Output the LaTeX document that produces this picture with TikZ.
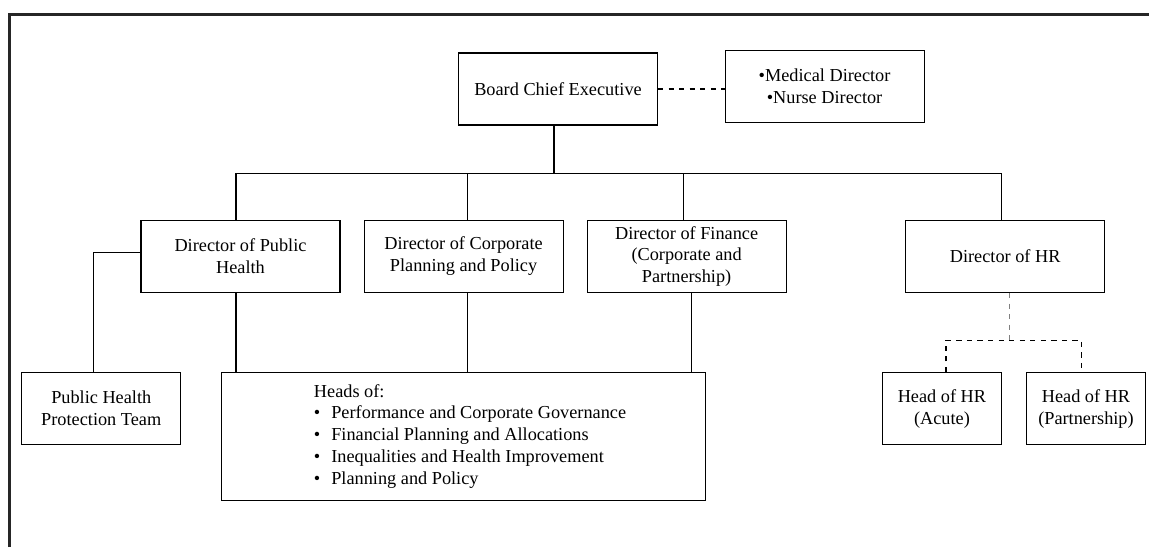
\documentclass[tikz,border=0pt]{standalone}
\usepackage{fontspec}
\setmainfont{Liberation Serif}
\usetikzlibrary{positioning}

\begin{document}
\begin{tikzpicture}[semithick, font=\fontsize{10.4}{12.5}\selectfont]

    \tikzstyle{post} = [rectangle, minimum width=3.98cm, minimum height=1.44cm, align=center, inner ysep=1pt, draw=black]
    \tikzstyle{head} = [post, minimum width=2.39cm]

    \useasboundingbox (0,0) rectangle (22.98,-10.94);
    \draw[line width=1.7pt, black!85] (0.19,-10.94) -- (0.19,-0.29) -- (22.98,-0.29);

    \node (ceo)     [post] at (11.16,-1.78)                     {Board Chief Executive};
    \node (med)     [post, right=1.33cm of ceo, yshift=0.05cm]  {\textbullet Medical Director\\\textbullet Nurse Director};

    \node (dph)     [post] at (4.81,-5.13)                      {Director of Public\\Health};
    \node (dcp)     [post, right=0.46cm of dph]                 {Director of Corporate\\Planning and Policy};
    \node (dfin)    [post, right=0.46cm of dcp]                 {Director of Finance\\(Corporate and\\Partnership)};
    \node (dhr)     [post, right=2.37cm of dfin]                {Director of HR};

    \node (heads)   [post, below=1.58cm of dcp, minimum width=9.67cm, minimum height=2.56cm]
        {\begin{tabular}{@{\hspace{0.26cm}}c@{\hspace{0.22cm}}l@{}}
            \multicolumn{2}{@{\hspace{0.26cm}}l@{}}{Heads of:}\\
            \textbullet & Performance and Corporate Governance\\
            \textbullet & Financial Planning and Allocations\\
            \textbullet & Inequalities and Health Improvement\\
            \textbullet & Planning and Policy
         \end{tabular}};
    \node (phpt)    [post, minimum width=3.18cm, left=0.8cm of heads.north west, anchor=north east] {Public Health\\Protection Team};

    \node (hracute) [head, below=1.58cm of dhr.south west, anchor=north west, xshift=-0.47cm] {Head of HR\\(Acute)};
    \node (hrpart)  [head, right=0.47cm of hracute]             {Head of HR\\(Partnership)};

    % board level
    \draw[dashed, thick] (ceo.east) -- (ceo.east -| med.west);
    \draw ([xshift=-0.08cm]ceo.south) -- ++(0,-0.954) coordinate (bus);

    % directors
    \draw ([xshift=-0.09cm]dph.north)  |- (bus);
    \draw ([xshift=0.07cm]dcp.north)   |- (bus);
    \draw ([xshift=-0.07cm]dfin.north) |- (bus);
    \draw ([xshift=-0.07cm]dhr.north)  |- (bus);

    % heads
    \draw ([xshift=-0.09cm]dph.south)  -- ([xshift=-0.09cm]dph.south |- heads.north);
    \draw ([xshift=0.07cm]dcp.south)   -- ([xshift=0.07cm]dcp.south |- heads.north);
    \draw ([xshift=0.09cm]dfin.south)  -- ([xshift=0.09cm]dfin.south |- heads.north);
    \draw ([yshift=0.08cm]dph.west)    -| ([xshift=-0.16cm]phpt.north);

    % HR
    \draw[dashed, gray] ([xshift=0.09cm]dhr.south) -- ++(0,-0.946) coordinate (hrfork);
    \draw[dashed, thick] ([xshift=0.08cm]hracute.north) |- (hrfork) -| ([xshift=-0.09cm]hrpart.north);

\end{tikzpicture}
\end{document}
